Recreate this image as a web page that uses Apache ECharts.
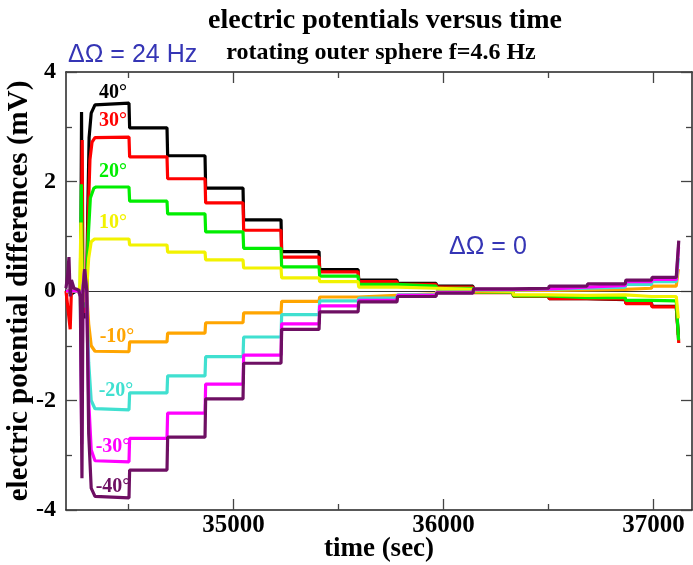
<!DOCTYPE html>
<html>
<head>
<meta charset="utf-8">
<script src="https://cdn.jsdelivr.net/npm/echarts@6/dist/echarts.min.js"></script>
<style>html,body{margin:0;padding:0;background:#fff}#c{width:693px;height:565px}</style>
</head>
<body>
<div id="c"></div>
<script>
// ---- data ----
const xMin = 34202, xMax = 37183;
const yMin = -4, yMax = 4;
const xMajorTicks = [35000, 36000, 37000];
const xMinorTicks = [34500, 35500, 36500];
const yMajorTicks = [-4, -2, 0, 2, 4];
const yMinorTicks = [-3, -1, 1, 3];

const seriesNames = ['40°', '30°', '20°', '10°', '-10°', '-20°', '-30°', '-40°'];
const seriesColors = ['#000000', '#ff0000', '#00ee00', '#f2f200', '#ffa500', '#40e0d0', '#ff00ff', '#6e0f63'];

// times of the step changes (sec)
const stepEdges = [34502, 34683, 34864, 35045, 35226, 35407, 35593, 35778, 35964, 36140, 36330, 36500, 36683, 36865, 36990];
const plateauStart = 34345;
const plateauEnd = 37108;

// plateau levels (mV), one per interval between step edges
const lev40  = [3.43, 2.98, 2.47, 1.88, 1.30, 0.72, 0.39, 0.20, 0.14, 0.09, -0.02, -0.09, -0.14, -0.16, -0.22, -0.28];
const lev30  = [2.81, 2.45, 2.05, 1.61, 1.11, 0.62, 0.35, 0.17, 0.12, 0.07, -0.03, -0.10, -0.14, -0.15, -0.23, -0.29];
const lev20  = [1.90, 1.64, 1.41, 1.08, 0.78, 0.44, 0.27, 0.12, 0.09, 0.05, -0.02, -0.09, -0.12, -0.12, -0.17, -0.18];
const lev10  = [0.95, 0.84, 0.71, 0.57, 0.42, 0.24, 0.17, 0.07, 0.05, 0.03, -0.01, -0.07, -0.08, -0.07, -0.10, -0.10];
const levM10 = [-1.11, -0.93, -0.77, -0.58, -0.40, -0.19, -0.11, -0.08, -0.05, -0.01, 0.01, 0.01, 0.02, 0.03, 0.05, 0.09];
const levM20 = [-2.17, -1.86, -1.55, -1.20, -0.84, -0.43, -0.18, -0.13, -0.07, -0.02, 0.02, 0.03, 0.05, 0.07, 0.12, 0.17];
const levM30 = [-3.12, -2.69, -2.23, -1.70, -1.17, -0.60, -0.27, -0.17, -0.08, -0.03, 0.03, 0.04, 0.07, 0.10, 0.17, 0.21];
const levM40 = [-3.78, -3.27, -2.67, -1.97, -1.32, -0.70, -0.38, -0.20, -0.10, -0.04, 0.04, 0.05, 0.09, 0.13, 0.20, 0.25];

// start-up transients [time, mV]
const start40  = [[34202,0.02],[34230,-0.05],[34262,0.03],[34272,0.05],[34276,3.27],[34280,0.1],[34290,-0.5],[34300,0.0],[34306,1.5],[34312,2.8],[34322,3.25],[34340,3.4]];
const start30  = [[34202,0],[34222,-0.7],[34228,0.05],[34262,0],[34274,0.1],[34279,2.76],[34283,0.1],[34291,-0.4],[34301,0],[34308,1.4],[34316,2.4],[34326,2.72],[34340,2.8]];
const start20  = [[34202,0],[34262,0],[34270,0.1],[34275,1.95],[34280,0.1],[34289,-0.3],[34300,0],[34308,1.0],[34318,1.7],[34335,1.88]];
const start10  = [[34202,0],[34262,0],[34268,0.1],[34273,1.25],[34278,0.1],[34288,-0.2],[34300,0],[34310,0.6],[34322,0.9],[34338,0.95]];
const startM10 = [[34202,0],[34262,0],[34270,-0.1],[34275,-1.0],[34280,0],[34289,0.25],[34300,0],[34310,-0.6],[34322,-1.0],[34340,-1.1]];
const startM20 = [[34202,0],[34262,0],[34270,-0.1],[34276,-1.9],[34281,0],[34290,0.35],[34300,0],[34310,-1.3],[34322,-2.0],[34340,-2.15]];
const startM30 = [[34202,0],[34262,0],[34271,-0.1],[34277,-2.8],[34282,0],[34290,0.4],[34300,0],[34310,-2.0],[34322,-2.9],[34340,-3.1]];
const startM40 = [[34202,0.05],[34210,0.3],[34216,0.62],[34222,-0.1],[34228,0.2],[34240,0.05],[34262,0.02],[34270,-0.1],[34278,-3.42],[34283,0],[34291,0.4],[34301,0],[34310,-2.6],[34322,-3.6],[34340,-3.75]];

// final spike [time, mV]
const end40  = [[37118,-0.8]];
const end30  = [[37120,-0.95]];
const end20  = [[37119,-0.9]];
const end10  = [[37118,-0.5]];
const endM10 = [[37118,0.4]];
const endM20 = [[37118,0.6]];
const endM30 = [[37119,0.8]];
const endM40 = [[37120,0.92]];

// label positions of the angle annotations [time, mV]
const labelPos = [[34426,3.62],[34426,3.10],[34426,2.17],[34426,1.24],[34445,-0.84],[34440,-1.82],[34426,-2.85],[34426,-3.58]];

const levels = [lev40, lev30, lev20, lev10, levM10, levM20, levM30, levM40];
const starts = [start40, start30, start20, start10, startM10, startM20, startM30, startM40];
const ends = [end40, end30, end20, end10, endM10, endM20, endM30, endM40];

function buildSeriesData(i) {
  const pts = starts[i].slice();
  const lv = levels[i];
  for (let k = 0; k < lv.length; k++) {
    const s = k === 0 ? plateauStart : stepEdges[k - 1] + 3;
    const e = k === lv.length - 1 ? plateauEnd : stepEdges[k];
    pts.push([s, lv[k]], [e, lv[k]]);
  }
  return pts.concat(ends[i]);
}

const serif = "'Liberation Serif', 'Times New Roman', serif";
const sans = "'Liberation Sans', Arial, sans-serif";

const chart = echarts.init(document.getElementById('c'), null, {renderer: 'canvas'});

function xAx(pos, ticks, len, showLine, showLabel, name) {
  return {
    type: 'value', min: xMin, max: xMax, position: pos,
    name: name || '', nameLocation: 'middle', nameGap: 26, nameMoveOverlap: false,
    nameTextStyle: {fontFamily: serif, fontWeight: 'bold', fontSize: 27, color: '#000'},
    axisLine: {show: showLine, onZero: false, lineStyle: {color: '#222', width: 1.5}},
    axisTick: {show: true, inside: true, length: len, customValues: ticks, lineStyle: {color: '#444', width: 1.3}},
    axisLabel: {show: showLabel, customValues: ticks, margin: 3, formatter: v => String(v),
      fontFamily: serif, fontWeight: 'bold', fontSize: 25, color: '#000'},
    splitLine: {show: false}
  };
}
function yAx(pos, ticks, len, showLine, showLabel, name) {
  return {
    type: 'value', min: yMin, max: yMax, position: pos,
    name: name || '', nameLocation: 'middle', nameGap: 32, nameRotate: 90, nameMoveOverlap: false,
    nameTextStyle: {fontFamily: serif, fontWeight: 'bold', fontSize: 29, color: '#000'},
    axisLine: {show: showLine, onZero: false, lineStyle: {color: '#222', width: 1.5}},
    axisTick: {show: true, inside: true, length: len, customValues: ticks, lineStyle: {color: '#444', width: 1.3}},
    axisLabel: {show: showLabel, customValues: ticks, margin: 10, formatter: v => String(v),
      fontFamily: serif, fontWeight: 'bold', fontSize: 24, color: '#000'},
    splitLine: {show: false}
  };
}

const series = seriesNames.map((n, i) => ({
  name: n, type: 'line', xAxisIndex: 0, yAxisIndex: 0,
  data: buildSeriesData(i), showSymbol: false, symbol: 'none',
  lineStyle: {color: seriesColors[i], width: 3.2}, itemStyle: {color: seriesColors[i]},
  z: 2 + i,
  markPoint: {
    symbol: 'circle', symbolSize: 1, itemStyle: {color: 'rgba(0,0,0,0)'},
    label: {show: true, position: 'inside', formatter: n, fontFamily: serif, fontWeight: 'bold', fontSize: 20, color: seriesColors[i]},
    data: [{coord: labelPos[i]}]
  }
}));
series.push({
  type: 'line', data: [], xAxisIndex: 0, yAxisIndex: 0, z: 20,
  markLine: {silent: true, symbol: ['none', 'none'], label: {show: false},
    lineStyle: {color: '#333', width: 1, type: 'solid'}, data: [{yAxis: 0}]}
});

chart.setOption({
  animation: false,
  backgroundColor: '#fff',
  title: [
    {text: 'electric potentials versus time', left: 380, top: 2, textAlign: 'center',
     textStyle: {fontFamily: serif, fontWeight: 'bold', fontSize: 28, color: '#000'}},
    {text: 'rotating outer sphere f=4.6 Hz', left: 376, top: 36, textAlign: 'center',
     textStyle: {fontFamily: serif, fontWeight: 'bold', fontSize: 24, color: '#000'}}
  ],
  grid: {left: 66, right: 1, top: 72, bottom: 55, containLabel: false, outerBoundsMode: 'none'},
  xAxis: [
    xAx('bottom', xMajorTicks, 11, true, true, 'time (sec)'),
    xAx('bottom', xMinorTicks, 6, false, false),
    xAx('top', xMajorTicks, 11, true, false),
    xAx('top', xMinorTicks, 6, false, false)
  ],
  yAxis: [
    yAx('left', yMajorTicks, 11, true, true, 'electric potential differences (mV)'),
    yAx('left', yMinorTicks, 6, false, false),
    yAx('right', yMajorTicks, 11, true, false),
    yAx('right', yMinorTicks, 6, false, false)
  ],
  graphic: [
    {type: 'text', left: 68, top: 43, style: {text: 'ΔΩ = 24 Hz', fontFamily: sans, fontSize: 25, fill: '#3535b5'}},
    {type: 'text', left: 449, top: 235, style: {text: 'ΔΩ = 0', fontFamily: sans, fontSize: 25, fill: '#3535b5'}}
  ],
  series: series
});
</script>
</body>
</html>
